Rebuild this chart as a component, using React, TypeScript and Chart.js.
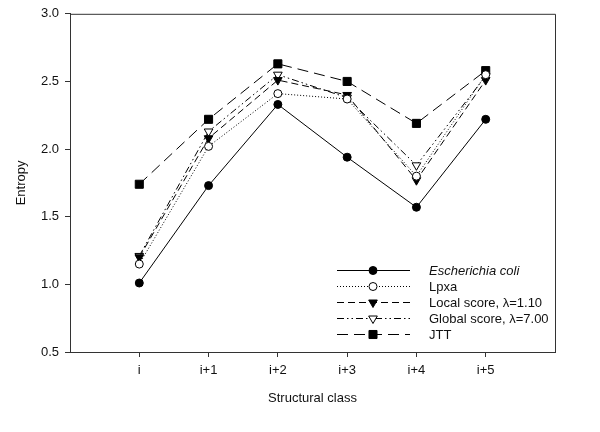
import React, { useEffect, useRef } from 'react';
import { Chart, registerables } from 'chart.js';
import { drawPoint } from 'chart.js/helpers';

Chart.register(...registerables);

const categories = ['i', 'i+1', 'i+2', 'i+3', 'i+4', 'i+5'];
const ecoli = [1.01, 1.73, 2.33, 1.94, 1.57, 2.22];
const lpxa = [1.15, 2.02, 2.41, 2.37, 1.8, 2.55];
const localScore = [1.2, 2.08, 2.51, 2.4, 1.77, 2.51];
const globalScore = [1.21, 2.13, 2.55, 2.38, 1.88, 2.54];
const jtt = [1.74, 2.22, 2.63, 2.5, 2.19, 2.58];
const yTicks = [0.5, 1.0, 1.5, 2.0, 2.5, 3.0];
const seriesNames = ['Escherichia coli', 'Lpxa', 'Local score, λ=1.10', 'Global score, λ=7.00', 'JTT'];

const FONT = "'Liberation Sans', Arial, sans-serif";

const styles = [
  { dash: [], pointStyle: 'circle', radius: 4, rotation: 0, fill: '#000' },
  { dash: [1, 2], pointStyle: 'circle', radius: 4, rotation: 0, fill: '#fff' },
  { dash: [7, 4], pointStyle: 'triangle', radius: 5, rotation: 180, fill: '#000' },
  { dash: [7, 3, 1.5, 3, 1.5, 3], pointStyle: 'triangle', radius: 5, rotation: 180, fill: '#fff' },
  { dash: [11, 6], pointStyle: 'rect', radius: 5.7, rotation: 0, fill: '#000' },
];

const frameAndLegend = {
  id: 'frameAndLegend',
  afterDraw(chart: any) {
    const ctx = chart.ctx;
    const { left, right, top, bottom } = chart.chartArea;
    ctx.save();
    ctx.strokeStyle = '#333';
    ctx.lineWidth = 1;
    ctx.setLineDash([]);
    ctx.beginPath();
    ctx.moveTo(left, top + 0.5);
    ctx.lineTo(right + 0.5, top + 0.5);
    ctx.lineTo(right + 0.5, bottom);
    ctx.stroke();

    const rowY0 = 270;
    const rowGap = 16;
    seriesNames.forEach((name, i) => {
      const s = styles[i];
      const y = rowY0 + i * rowGap;
      ctx.strokeStyle = '#000';
      ctx.lineWidth = 1;
      ctx.setLineDash(s.dash);
      ctx.beginPath();
      ctx.moveTo(337, y + 0.5);
      ctx.lineTo(410, y + 0.5);
      ctx.stroke();
      ctx.setLineDash([]);
      ctx.fillStyle = s.fill;
      ctx.strokeStyle = '#000';
      drawPoint(ctx, { pointStyle: s.pointStyle, radius: s.radius, rotation: s.rotation, borderWidth: 1 } as any, 373, y + 0.5);
      ctx.fillStyle = '#111';
      ctx.font = (i === 0 ? 'italic ' : '') + '13px ' + FONT;
      ctx.textAlign = 'left';
      ctx.textBaseline = 'middle';
      ctx.fillText(name, 429, y + 1);
    });
    ctx.restore();
  },
};

export default function App() {
  const ref = useRef<HTMLCanvasElement | null>(null);
  useEffect(() => {
    document.body.style.margin = '0';
    document.body.style.background = '#fff';
    const all = [ecoli, lpxa, localScore, globalScore, jtt];
    const chart = new Chart(ref.current as HTMLCanvasElement, {
      type: 'line',
      data: {
        datasets: all.map((vals, i) => ({
          label: seriesNames[i],
          data: vals.map((v, j) => ({ x: j, y: v })),
          borderColor: '#000',
          borderWidth: 1,
          borderDash: styles[i].dash,
          pointStyle: styles[i].pointStyle as any,
          pointRadius: styles[i].radius,
          pointRotation: styles[i].rotation,
          pointBackgroundColor: styles[i].fill,
          pointBorderColor: '#000',
          pointBorderWidth: 1,
          fill: false,
          tension: 0,
        })),
      },
      options: {
        responsive: false,
        animation: false,
        layout: { padding: { top: 13, right: 45, left: 0, bottom: 0 } },
        plugins: { legend: { display: false }, tooltip: { enabled: false } },
        scales: {
          x: {
            type: 'linear',
            min: -1,
            max: 6,
            afterBuildTicks(scale: any) {
              scale.ticks = categories.map((_, j) => ({ value: j }));
            },
            afterFit(scale: any) {
              scale.height = 80;
            },
            ticks: {
              callback: (v: any) => categories[v as number] ?? '',
              font: { family: FONT, size: 13 },
              color: '#111',
              padding: 6,
              maxRotation: 0,
            },
            grid: { drawOnChartArea: false, drawTicks: true, tickLength: 5, color: '#333' },
            border: { display: true, color: '#333' },
            title: {
              display: true,
              text: 'Structural class',
              font: { family: FONT, size: 13 },
              color: '#111',
              padding: { top: 0, bottom: 26 },
            },
          },
          y: {
            type: 'linear',
            min: 0.5,
            max: 3.0,
            afterBuildTicks(scale: any) {
              scale.ticks = yTicks.map((v) => ({ value: v }));
            },
            afterFit(scale: any) {
              scale.width = 70;
            },
            ticks: {
              callback: (v: any) => Number(v).toFixed(1),
              font: { family: FONT, size: 13 },
              color: '#111',
              padding: 6,
            },
            grid: { drawOnChartArea: false, drawTicks: true, tickLength: 5, color: '#333' },
            border: { display: true, color: '#333' },
            title: {
              display: true,
              text: 'Entropy',
              font: { family: FONT, size: 13 },
              color: '#111',
              padding: { top: 14, bottom: 14 },
            },
          },
        },
      },
      plugins: [frameAndLegend],
    });
    return () => chart.destroy();
  }, []);
  return (
    <div style={{ width: 600, height: 432 }}>
      <canvas ref={ref} width={600} height={432} />
    </div>
  );
}
